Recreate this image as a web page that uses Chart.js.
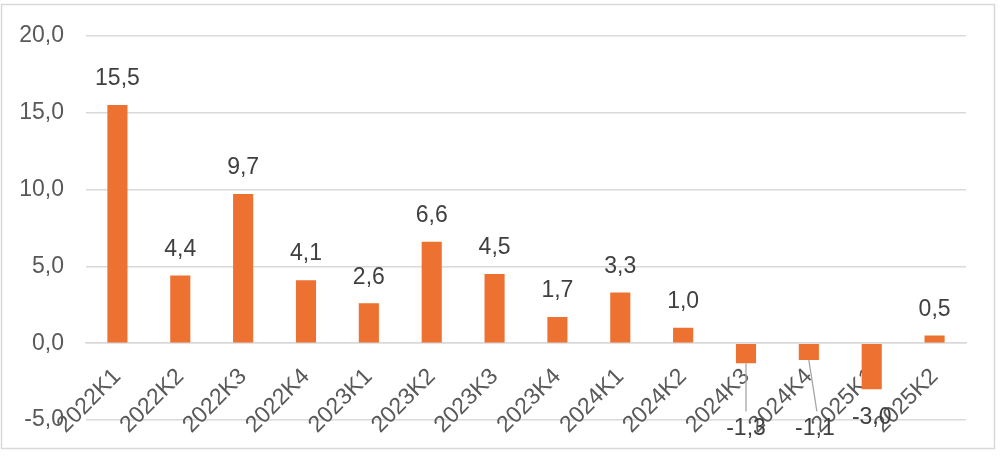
<!DOCTYPE html>
<html>
<head>
<meta charset="utf-8">
<script src="https://cdn.jsdelivr.net/npm/chart.js@4"></script>
<style>
  body { margin: 0; background: #fff; }
  #wrap { width: 1004px; height: 458px; position: relative; }
</style>
</head>
<body>
<div id="wrap"><canvas id="myChart"></canvas></div>
<script>
var categories = ["2022K1", "2022K2", "2022K3", "2022K4", "2023K1", "2023K2", "2023K3", "2023K4",
                  "2024K1", "2024K2", "2024K3", "2024K4", "2025K1", "2025K2"];
var values = [15.5, 4.4, 9.7, 4.1, 2.6, 6.6, 4.5, 1.7, 3.3, 1.0, -1.3, -1.1, -3.0, 0.5];
var yTicks = [-5, 0, 5, 10, 15, 20];

var FONT = '"Liberation Sans", Arial, sans-serif';

function fmt(v) { return v.toFixed(1).replace('.', ','); }

// data labels drawn from the bar elements
var barLabels = {
  id: 'barLabels',
  afterDatasetsDraw: function (chart, args, opts) {
    var c = chart.ctx, y = chart.scales.y;
    var meta = chart.getDatasetMeta(0);
    c.save();
    c.font = opts.font;
    c.fillStyle = opts.color;
    c.textAlign = 'center';
    c.textBaseline = 'middle';
    meta.data.forEach(function (bar, i) {
      var v = values[i];
      var p = opts.place[i];
      var lx = bar.x, ly;
      if (p) {
        lx = bar.x + (p.dx || 0);
        ly = y.getPixelForValue(p.y);
        if (p.leader) {
          c.strokeStyle = opts.leaderColor;
          c.lineWidth = 1.3;
          c.beginPath();
          c.moveTo(bar.x, bar.y);
          c.lineTo(lx + (p.leaderDx || 0), ly - 17);
          c.stroke();
        }
      } else {
        ly = bar.y - 26;
      }
      c.fillText(fmt(v), lx, ly);
    });
    c.restore();
  }
};

var frame = {
  id: 'frame',
  beforeDraw: function (chart) {
    var c = chart.ctx;
    c.save();
    c.strokeStyle = '#d9d9d9';
    c.lineWidth = 1.5;
    c.strokeRect(1.5, 4.5, 993, 444);
    c.restore();
  }
};

var ctx = document.getElementById("myChart");

var myChart = new Chart(ctx, {
  type: 'bar',
  data: {
    labels: categories,
    datasets: [{
      data: values,
      backgroundColor: "#ed7131",
      categoryPercentage: 1,
      barPercentage: 0.32
    }]
  },
  options: {
    responsive: true,
    maintainAspectRatio: false,
    animation: false,
    layout: { padding: { top: 34, right: 38, bottom: 38, left: 0 } },
    plugins: {
      legend: { display: false },
      tooltip: { enabled: false },
      barLabels: {
        font: '23px ' + FONT,
        color: '#404040',
        leaderColor: '#a6a6a6',
        place: {
          10: { y: -5.55, leader: true },
          11: { y: -5.55, dx: 6, leader: true, leaderDx: 2 },
          12: { y: -4.85 }
        }
      }
    },
    scales: {
      x: {
        position: { y: 0 },
        grid: { display: false, drawTicks: false },
        border: { display: true, color: '#d9d9d9', width: 1.5 },
        ticks: {
          autoSkip: false,
          minRotation: 45,
          maxRotation: 45,
          padding: 20,
          color: '#595959',
          font: { family: FONT, size: 23 }
        }
      },
      y: {
        min: -5,
        max: 20,
        afterFit: function (s) { s.width = 86; },
        afterBuildTicks: function (s) { s.ticks = yTicks.map(function (v) { return { value: v }; }); },
        grid: { color: '#d9d9d9', lineWidth: 1.5, drawTicks: false },
        border: { display: false },
        ticks: {
          padding: 22,
          color: '#595959',
          font: { family: FONT, size: 23 },
          callback: function (v) { return fmt(v); }
        }
      }
    }
  },
  plugins: [frame, barLabels]
});
</script>
</body>
</html>
